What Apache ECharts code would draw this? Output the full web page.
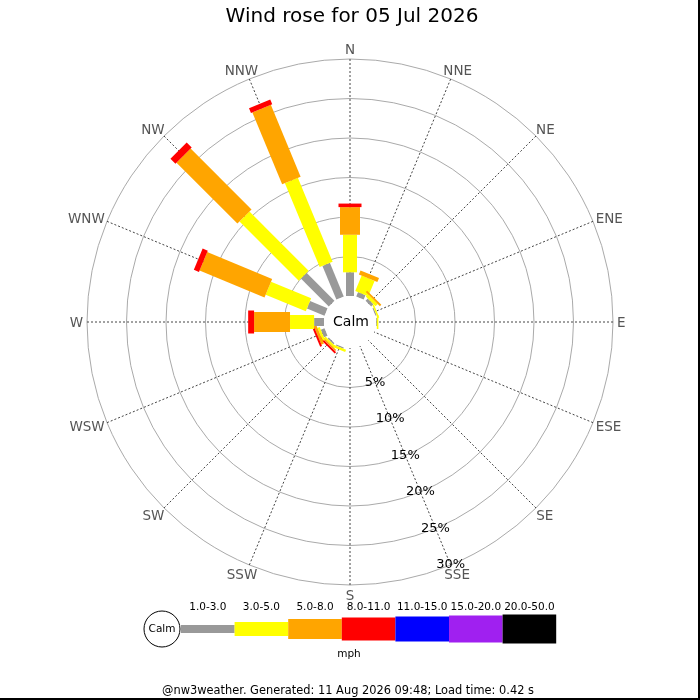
<!DOCTYPE html>
<html>
<head>
<meta charset="utf-8">
<title>Wind rose</title>
<script src="https://cdn.jsdelivr.net/npm/echarts@6/dist/echarts.min.js"></script>
<style>
  html, body { margin: 0; padding: 0; background: #fff; }
  #chart {
    width: 700px; height: 700px; box-sizing: border-box;
    border-right: 2px solid #000; border-bottom: 2px solid #000;
  }
</style>
</head>
<body>
<div id="chart"></div>
<script>
// directions, clockwise from north
const directions = ['N', 'NNE', 'NE', 'ENE', 'E', 'ESE', 'SE', 'SSE',
  'S', 'SSW', 'SW', 'WSW', 'W', 'WNW', 'NW', 'NNW'];
const speedBins = ['1.0-3.0', '3.0-5.0', '5.0-8.0', '8.0-11.0', '11.0-15.0', '15.0-20.0', '20.0-50.0'];
const pctTicks = [5, 10, 15, 20, 25, 30];

// % of time per direction, one array per speed bin
const speed1to3 = [3.0, 0.6, 0.4, 0.15, 0.1, 0, 0, 0, 0, 0.15, 0.2, 0.5, 1.25, 2.4, 5.0, 4.6];
const speed3to5 = [4.75, 2.1, 0.4, 0.2, 0.2, 0, 0, 0, 0, 0.3, 0.25, 0.3, 3.05, 5.5, 10.6, 11.5];
const speed5to8 = [3.5, 0.55, 0.25, 0, 0, 0, 0, 0, 0, 0, 0.2, 0.35, 4.55, 8.9, 10.9, 9.85];
const speed8to11 = [0.45, 0, 0, 0, 0, 0, 0, 0, 0, 0, 0.25, 0.25, 0.75, 0.7, 0.9, 0.65];
const speed11to15 = [0, 0, 0, 0, 0, 0, 0, 0, 0, 0, 0, 0, 0, 0, 0, 0];
const speed15to20 = [0, 0, 0, 0, 0, 0, 0, 0, 0, 0, 0, 0, 0, 0, 0, 0];
const speed20to50 = [0, 0, 0, 0, 0, 0, 0, 0, 0, 0, 0, 0, 0, 0, 0, 0];

const binValues = [speed1to3, speed3to5, speed5to8, speed8to11, speed11to15, speed15to20, speed20to50];
const binColors = ['#999999', '#ffff00', '#ffa500', '#ff0000', '#0000ff', '#a020f0', '#000000'];
const binWidths = [8, 14, 20, 23, 25, 27, 29];

const FONT = 'DejaVu Sans';
const DIR_FONT_SIZE = 13.5;
const STEP = 360 / directions.length;

// stacked segments: [to, angle, from, bin]
let barData = [];
directions.forEach((d, i) => {
  let acc = 0;
  binValues.forEach((vals, b) => {
    if (vals[i] > 0) {
      barData.push([acc + vals[i], i * STEP, acc, b]);
      acc += vals[i];
    }
  });
});

// text measuring for placing compass labels just outside the ring
let measureCtx = document.createElement('canvas').getContext('2d');
measureCtx.font = DIR_FONT_SIZE + 'px "' + FONT + '"';

function renderBar(params, api) {
  let to = api.value(0), angle = api.value(1), from = api.value(2), bin = api.value(3);
  let p0 = api.coord([from, angle]);
  let p1 = api.coord([to, angle]);
  let rad = angle * Math.PI / 180;
  let hw = binWidths[bin] / 2;
  let nx = Math.cos(rad) * hw, ny = Math.sin(rad) * hw;
  return {
    type: 'polygon',
    shape: {points: [[p0[0] + nx, p0[1] + ny], [p1[0] + nx, p1[1] + ny],
      [p1[0] - nx, p1[1] - ny], [p0[0] - nx, p0[1] - ny]]},
    style: {fill: binColors[bin]}
  };
}

function renderDirLabel(params, api) {
  let angle = api.value(1);
  let text = directions[params.dataIndex];
  let pOut = api.coord([30, angle]);
  let pIn = api.coord([0, angle]);
  let dx = pOut[0] - pIn[0], dy = pOut[1] - pIn[1];
  let len = Math.sqrt(dx * dx + dy * dy);
  let ux = dx / len, uy = dy / len;
  let w = measureCtx.measureText(text).width;
  // anchor a few px past the ring, then push the text box outward
  let ax = pOut[0] + ux * 4, ay = pOut[1] + uy * 4;
  return {
    type: 'text',
    x: ax + ux * w / 2,
    y: ay + uy * 6 + 1.5,
    style: {text: text, fill: '#555', fontSize: DIR_FONT_SIZE, fontFamily: FONT,
      align: 'center', verticalAlign: 'middle'}
  };
}

function renderPctLabel(params, api) {
  let p = api.coord([api.value(0), api.value(1)]);
  return {
    type: 'text', x: p[0], y: p[1],
    style: {text: api.value(0) + '%', fill: '#000', fontSize: 13, fontFamily: FONT,
      align: 'center', verticalAlign: 'middle'}
  };
}

// legend built with graphic elements
let legend = [];
let lx = 181, lw = 53.6, ly = 629;
legend.push({type: 'circle', shape: {cx: 162, cy: ly, r: 18}, style: {fill: '#fff', stroke: '#000', lineWidth: 1}});
legend.push({type: 'text', x: 162, y: ly, style: {text: 'Calm', fontSize: 10.5, fontFamily: FONT, fill: '#000', align: 'center', verticalAlign: 'middle'}});
speedBins.forEach((name, b) => {
  let x = lx + b * lw;
  legend.push({type: 'rect', shape: {x: x, y: ly - binWidths[b] / 2, width: lw, height: binWidths[b]}, style: {fill: binColors[b]}});
  legend.push({type: 'text', x: x + lw / 2, y: 607, style: {text: name, fontSize: 10.5, fontFamily: FONT, fill: '#000', align: 'center', verticalAlign: 'middle'}});
});
legend.push({type: 'text', x: 349, y: 654, style: {text: 'mph', fontSize: 10.5, fontFamily: FONT, fill: '#000', align: 'center', verticalAlign: 'middle'}});
legend.push({type: 'text', x: 348, y: 691, style: {text: '@nw3weather. Generated: 11 Aug 2026 09:48; Load time: 0.42 s', fontSize: 11.4, fontFamily: FONT, fill: '#000', align: 'center', verticalAlign: 'middle'}});
legend.push({type: 'text', x: 351, y: 322, z: 100, style: {text: 'Calm', fontSize: 14, fontFamily: FONT, fill: '#000', align: 'center', verticalAlign: 'middle'}});
legend.push({type: 'text', x: 352, y: 17, style: {text: 'Wind rose for 05 Jul 2026', fontSize: 20, fontFamily: FONT, fill: '#000', align: 'center', verticalAlign: 'middle'}});

let chart = echarts.init(document.getElementById('chart'), null, {renderer: 'canvas'});
chart.setOption({
  animation: false,
  backgroundColor: '#fff',
  polar: {center: [350, 322], radius: [26, 263]},
  angleAxis: {
    type: 'value', min: 0, max: 360, interval: STEP, startAngle: 90, clockwise: true,
    axisLine: {show: false}, axisTick: {show: false}, axisLabel: {show: false},
    splitLine: {show: true, lineStyle: {color: '#444', type: [2, 2], width: 1}}
  },
  radiusAxis: {
    type: 'value', min: 0, max: 30, interval: 5,
    axisLine: {show: false}, axisTick: {show: false}, axisLabel: {show: false},
    splitLine: {show: true, lineStyle: {color: ['rgba(0,0,0,0)', '#aaa', '#aaa', '#aaa', '#aaa', '#aaa', '#aaa'], width: 1}}
  },
  graphic: legend,
  series: [
    {type: 'custom', coordinateSystem: 'polar', renderItem: renderBar, data: barData, silent: true, z: 3},
    {type: 'custom', coordinateSystem: 'polar', renderItem: renderDirLabel,
      data: directions.map((d, i) => [30, i * STEP]), silent: true, z: 4},
    {type: 'custom', coordinateSystem: 'polar', renderItem: renderPctLabel,
      data: pctTicks.map(v => [v, 7 * STEP]), silent: true, z: 4}
  ]
});
</script>
</body>
</html>
